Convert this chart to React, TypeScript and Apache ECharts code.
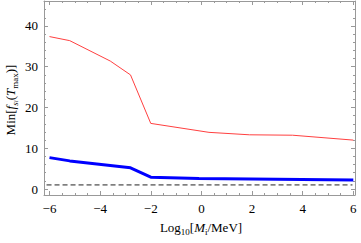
import React, { useEffect, useRef } from "react";
import * as echarts from "echarts";

const redX = [-6, -5.2, -3.6, -2.8, -2, 0.3, 1.9, 3.6, 6];
const redY = [37.4, 36.4, 31.4, 28.0, 16.1, 13.9, 13.3, 13.2, 12.0];
const blueX = [-6, -5.2, -2.8, -2, -0.1, 6];
const blueY = [7.7, 6.9, 5.2, 2.9, 2.6, 2.2];
const dashedLevel = 1;

const xTicks = [-6, -4, -2, 0, 2, 4, 6];
const yTicks = [0, 10, 20, 30, 40];
const xMinorTicks = [-5.5, -5, -4.5, -3.5, -3, -2.5, -1.5, -1, -0.5, 0.5, 1, 1.5, 2.5, 3, 3.5, 4.5, 5, 5.5];
const yMinorTicks = [2, 4, 6, 8, 12, 14, 16, 18, 22, 24, 26, 28, 32, 34, 36, 38, 42, 44, 46];

const xMin = -6.217;
const xMax = 6.067;
const yMin = -1.47;
const yMax = 46.13;

const FRAME = "#999999";
const FONT = "Liberation Serif";

export default function App() {
  const ref = useRef<HTMLDivElement>(null);
  useEffect(() => {
    if (!ref.current) return;
    const chart = echarts.init(ref.current, null, { renderer: "svg" });

    const mkX = (pos: string, values: number[], len: number, labels: boolean, line: boolean) => ({
      type: "value",
      position: pos,
      min: xMin,
      max: xMax,
      axisLine: { show: line, onZero: false, lineStyle: { color: FRAME, width: 1 } },
      axisTick: { show: true, inside: true, length: len, customValues: values, lineStyle: { color: FRAME, width: 1 } },
      axisLabel: {
        show: labels,
        customValues: values,
        margin: 7,
        color: "#000",
        fontFamily: FONT,
        fontSize: 13,
        formatter: (v: number) => String(v).replace("-", "\u2212"),
      },
      splitLine: { show: false },
    });
    const mkY = (pos: string, values: number[], len: number, labels: boolean, line: boolean) => ({
      type: "value",
      position: pos,
      min: yMin,
      max: yMax,
      axisLine: { show: line, onZero: false, lineStyle: { color: FRAME, width: 1 } },
      axisTick: { show: true, inside: true, length: len, customValues: values, lineStyle: { color: FRAME, width: 1 } },
      axisLabel: {
        show: labels,
        customValues: values,
        margin: 6,
        color: "#000",
        fontFamily: FONT,
        fontSize: 13,
      },
      splitLine: { show: false },
    });

    chart.setOption({
      animation: false,
      grid: { left: 44, right: 6, top: 1, bottom: 48 },
      xAxis: [
        mkX("bottom", xTicks, 4, true, true),
        mkX("bottom", xMinorTicks, 2, false, false),
        mkX("top", xTicks, 4, false, true),
        mkX("top", xMinorTicks, 2, false, false),
      ],
      yAxis: [
        mkY("left", yTicks, 4, true, true),
        mkY("left", yMinorTicks, 2, false, false),
        mkY("right", yTicks, 4, false, true),
        mkY("right", yMinorTicks, 2, false, false),
      ],
      series: [
        {
          type: "line",
          data: [[xMin + 0.1, dashedLevel], [xMax - 0.1, dashedLevel]],
          showSymbol: false,
          lineStyle: { color: "#222", width: 1, type: [5, 3] },
          z: 1,
        },
        {
          type: "line",
          data: redX.map((x, i) => [x, redY[i]]),
          showSymbol: false,
          lineStyle: { color: "#ff4040", width: 1 },
          z: 2,
        },
        {
          type: "line",
          data: blueX.map((x, i) => [x, blueY[i]]),
          showSymbol: false,
          clip: false,
          lineStyle: { color: "#0000ff", width: 3 },
          z: 3,
        },
      ],
      graphic: [
        {
          type: "text",
          x: 201,
          y: 227,
          style: {
            text: "Log{sub|10}[{it|M}{sub|i}/MeV]",
            align: "center",
            verticalAlign: "middle",
            fontFamily: FONT,
            fontSize: 13,
            fill: "#000",
            rich: {
              it: { fontStyle: "italic", fontFamily: FONT, fontSize: 13, lineHeight: 18 },
              sub: { fontFamily: FONT, fontSize: 9, lineHeight: 9, verticalAlign: "bottom" },
            },
          },
        },
        {
          type: "text",
          x: 10,
          y: 100,
          rotation: Math.PI / 2,
          style: {
            text: "Min[{it|f}{sub|s}{subsub|i}({it|T}{subr|max})]",
            align: "center",
            verticalAlign: "middle",
            fontFamily: FONT,
            fontSize: 13,
            fill: "#000",
            rich: {
              it: { fontStyle: "italic", fontFamily: FONT, fontSize: 13, lineHeight: 18 },
              sub: { fontStyle: "italic", fontFamily: FONT, fontSize: 9, lineHeight: 9, verticalAlign: "bottom" },
              subsub: { fontStyle: "italic", fontFamily: FONT, fontSize: 7, lineHeight: 5, verticalAlign: "bottom" },
              subr: { fontFamily: FONT, fontSize: 9, lineHeight: 9, verticalAlign: "bottom" },
            },
          },
        },
      ],
    });
    return () => chart.dispose();
  }, []);
  return <div ref={ref} style={{ width: 361, height: 243, position: "absolute", left: 0, top: 0 }} />;
}
